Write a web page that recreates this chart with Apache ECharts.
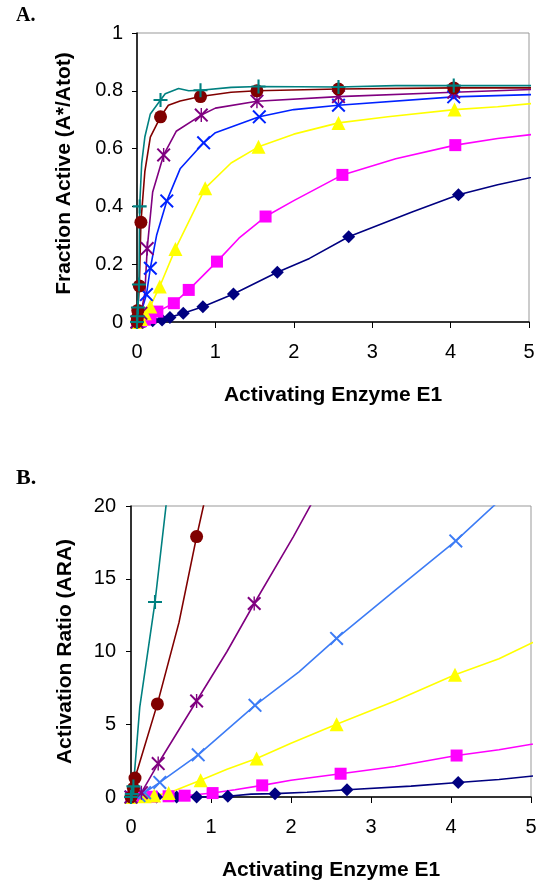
<!DOCTYPE html>
<html>
<head>
<meta charset="utf-8">
<script src="https://cdn.jsdelivr.net/npm/echarts@6/dist/echarts.min.js"></script>
<style>
  html, body { margin: 0; padding: 0; background: #fff; }
  #chart { width: 544px; height: 888px; }
</style>
</head>
<body>
<div id="chart"></div>
<script>
  // [x, y, marker?]
  // panel A: fraction active
  const aNavy = [[0,0,1],[0.1,0.002,1],[0.2,0.004,1],[0.32,0.007,1],[0.42,0.016,1],[0.59,0.03,1],[0.84,0.053,1],[1.23,0.097,1],[1.79,0.172,1],[2.2,0.22,0],[2.7,0.295,1],[3.5,0.38,0],[4.1,0.44,1],[4.6,0.475,0],[5.2,0.51,0]];
  const aMagenta = [[0,0,1],[0.05,0.003,1],[0.1,0.008,1],[0.17,0.014,1],[0.26,0.036,1],[0.47,0.065,1],[0.66,0.111,1],[1.02,0.209,1],[1.3,0.29,0],[1.64,0.365,1],[2.0,0.42,0],[2.62,0.509,1],[3.3,0.565,0],[4.06,0.612,1],[4.6,0.635,0],[5.2,0.654,0]];
  const aYellow = [[0,0,1],[0.05,0.01,1],[0.1,0.03,1],[0.17,0.054,1],[0.29,0.123,1],[0.49,0.253,1],[0.87,0.463,1],[1.2,0.55,0],[1.55,0.606,1],[2.0,0.65,0],[2.57,0.689,1],[3.2,0.71,0],[4.05,0.735,1],[4.6,0.745,0],[5.2,0.76,0]];
  const aBlue = [[0,0,1],[0.05,0.03,0],[0.12,0.095,1],[0.17,0.186,1],[0.25,0.3,0],[0.38,0.419,1],[0.55,0.53,0],[0.85,0.62,1],[1.0,0.655,0],[1.56,0.71,1],[2.0,0.735,0],[2.57,0.75,1],[4.04,0.779,1],[5.2,0.788,0]];
  const aPurple = [[0,0,1],[0.05,0.03,1],[0.1,0.1,0],[0.13,0.254,1],[0.2,0.45,0],[0.34,0.578,1],[0.5,0.66,0],[0.82,0.716,1],[1.0,0.74,0],[1.53,0.764,1],[2.57,0.78,1],[4.04,0.795,1],[5.2,0.806,0]];
  const aBrown = [[0,0,1],[0.005,0.015,1],[0.01,0.04,1],[0.03,0.125,1],[0.05,0.345,1],[0.1,0.52,0],[0.17,0.64,0],[0.3,0.71,1],[0.4,0.75,0],[0.55,0.765,0],[0.81,0.78,1],[1.2,0.795,0],[1.53,0.8,1],[2.57,0.806,1],[4.04,0.81,1],[5.2,0.81,0]];
  const aTeal = [[0,0,1],[0.005,0.02,1],[0.012,0.05,1],[0.025,0.13,1],[0.034,0.4,1],[0.06,0.55,0],[0.1,0.64,0],[0.17,0.72,0],[0.3,0.768,1],[0.36,0.79,0],[0.53,0.808,0],[0.66,0.8,0],[0.81,0.802,1],[1.2,0.812,0],[1.55,0.815,1],[2.57,0.813,1],[3.3,0.818,0],[4.04,0.818,1],[5.2,0.818,0]];

  // panel B: activation ratio
  const bNavy = [[0,0,1],[0.32,0,1],[0.57,0,1],[0.82,0,1],[1.21,0.05,1],[1.5,0.2,0],[1.8,0.23,1],[2.2,0.33,0],[2.7,0.5,1],[3.5,0.75,0],[4.09,1.0,1],[4.6,1.2,0],[5.2,1.55,0]];
  const bMagenta = [[0,0,1],[0.1,0.01,1],[0.26,0.02,1],[0.47,0.05,1],[0.67,0.09,1],[1.02,0.27,1],[1.3,0.5,0],[1.64,0.8,1],[2.0,1.15,0],[2.62,1.6,1],[3.3,2.1,0],[4.07,2.85,1],[4.6,3.25,0],[5.2,3.8,0]];
  const bYellow = [[0,0,1],[0.17,0.05,1],[0.29,0.1,1],[0.47,0.27,1],[0.87,1.15,1],[1.2,1.9,0],[1.57,2.65,1],[2.0,3.7,0],[2.57,5.0,1],[3.3,6.6,0],[4.05,8.4,1],[4.6,9.5,0],[5.2,11.1,0]];
  const bBlue = [[0,0,1],[0.1,0.1,1],[0.17,0.3,1],[0.36,1.0,1],[0.84,2.9,1],[1.55,6.3,1],[2.1,8.6,0],[2.57,10.9,1],[3.3,14.2,0],[4.06,17.6,1],[4.65,20.6,0]];
  const bPurple = [[0,0,1],[0.13,0.3,1],[0.34,2.3,1],[0.82,6.6,1],[1.2,10,0],[1.54,13.3,1],[2.03,17.9,0],[2.3,20.6,0]];
  const bBrown = [[0,0,1],[0.03,0.6,1],[0.05,1.3,1],[0.33,6.4,1],[0.6,12,0],[0.82,17.9,1],[0.93,20.6,0]];
  const bTeal = [[0,0,1],[0.01,0.2,1],[0.03,0.73,1],[0.11,6.2,0],[0.3,13.4,1],[0.45,20.6,0]];

  const plusPath = 'path://M8.5,0H11.5V8.5H20V11.5H11.5V20H8.5V11.5H0V8.5H8.5Z';
  const crossPath = 'path://M0,2L2,0L10,8L18,0L20,2L12,10L20,18L18,20L10,12L2,20L0,18L8,10Z';
  const starPath = 'path://M0,2L2,0L10,8L18,0L20,2L12,10L20,18L18,20L10,12L2,20L0,18L8,10Z M9,0H11V20H9Z';

  const font = '"Liberation Sans", Arial, sans-serif';

  function mkSeries(data, idx, color, symbol, size, clip) {
    return {
      type: 'line',
      xAxisIndex: idx,
      yAxisIndex: idx,
      data: data,
      clip: clip,
      showSymbol: true,
      showAllSymbol: true,
      symbol: function (v) { return v[2] ? symbol : 'none'; },
      symbolSize: size,
      lineStyle: { color: color, width: 1.6 },
      itemStyle: { color: color, borderWidth: 0 },
      animation: false,
      z: 3
    };
  }

  function xAxisOf(idx) {
    return {
      gridIndex: idx,
      type: 'value',
      min: 0, max: 5, interval: 1,
      name: 'Activating Enzyme E1',
      nameLocation: 'middle',
      nameGap: 63,
      nameTextStyle: { fontFamily: font, fontSize: 21, fontWeight: 'bold', color: '#000' },
      axisLine: { show: true, lineStyle: { color: '#000', width: 1.5 } },
      axisTick: { show: true, length: 6, lineStyle: { color: '#000' } },
      axisLabel: { fontFamily: font, fontSize: 20, color: '#000', margin: 20 },
      splitLine: { show: false }
    };
  }

  let chart = echarts.init(document.getElementById('chart'), null, { renderer: 'canvas' });

  let option = {
    backgroundColor: '#fff',
    animation: false,
    graphic: [
      { type: 'text', left: 16, top: 6, style: { text: 'A.', font: 'bold 20px "Liberation Serif"', fill: '#000' } },
      { type: 'text', left: 16, top: 467, style: { text: 'B.', font: 'bold 22px "Liberation Serif"', fill: '#000' } }
    ],
    grid: [
      { left: 137, top: 33, width: 392, height: 289, show: true, borderColor: '#999', borderWidth: 1, backgroundColor: 'transparent' },
      { left: 131, top: 506, width: 400, height: 291, show: true, borderColor: '#999', borderWidth: 1, backgroundColor: 'transparent' }
    ],
    xAxis: [xAxisOf(0), xAxisOf(1)],
    yAxis: [
      {
        gridIndex: 0,
        type: 'value',
        min: 0, max: 1, interval: 0.2,
        name: 'Fraction Active (A*/Atot)',
        nameLocation: 'middle',
        nameGap: 62,
        nameTextStyle: { fontFamily: font, fontSize: 21, fontWeight: 'bold', color: '#000', padding: [0, 0, 0, 8] },
        axisLine: { show: true, lineStyle: { color: '#000', width: 1.5 } },
        axisTick: { show: true, length: 5, lineStyle: { color: '#000' } },
        axisLabel: { fontFamily: font, fontSize: 20, color: '#000', margin: 14,
          formatter: function (v) { return String(+v.toFixed(1)); } },
        splitLine: { show: false }
      },
      {
        gridIndex: 1,
        type: 'value',
        min: 0, max: 20, interval: 5,
        name: 'Activation Ratio (ARA)',
        nameLocation: 'middle',
        nameGap: 55,
        nameTextStyle: { fontFamily: font, fontSize: 21, fontWeight: 'bold', color: '#000' },
        axisLine: { show: true, lineStyle: { color: '#000', width: 1.5 } },
        axisTick: { show: true, length: 5, lineStyle: { color: '#000' } },
        axisLabel: { fontFamily: font, fontSize: 20, color: '#000', margin: 15 },
        splitLine: { show: false }
      }
    ],
    series: [
      mkSeries(aNavy, 0, '#000080', 'diamond', 13, false),
      mkSeries(aMagenta, 0, '#ff00ff', 'rect', 12, false),
      mkSeries(aYellow, 0, '#ffff00', 'triangle', 14, false),
      mkSeries(aBlue, 0, '#0022ff', crossPath, 14, false),
      mkSeries(aPurple, 0, '#800080', starPath, 14, false),
      mkSeries(aBrown, 0, '#800000', 'circle', 13, false),
      mkSeries(aTeal, 0, '#008080', plusPath, 14, false),

      mkSeries(bNavy, 1, '#000080', 'diamond', 13, false),
      mkSeries(bMagenta, 1, '#ff00ff', 'rect', 12, false),
      mkSeries(bYellow, 1, '#ffff00', 'triangle', 14, false),
      mkSeries(bBlue, 1, '#3d7cf5', crossPath, 14, true),
      mkSeries(bPurple, 1, '#800080', starPath, 14, true),
      mkSeries(bBrown, 1, '#800000', 'circle', 13, true),
      mkSeries(bTeal, 1, '#008080', plusPath, 14, true)
    ]
  };
  chart.setOption(option);
</script>
</body>
</html>
